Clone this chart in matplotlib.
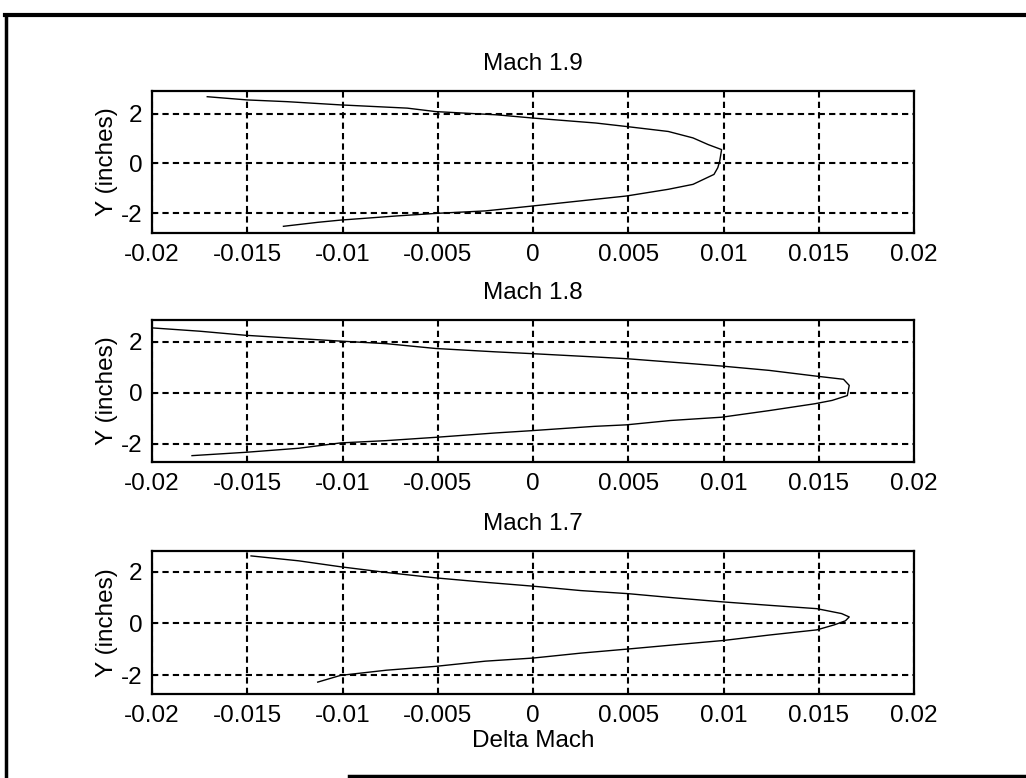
import matplotlib.pyplot as plt
from matplotlib.lines import Line2D

plt.rcParams['font.family'] = ['Liberation Sans', 'DejaVu Sans']

titles = ["Mach 1.9", "Mach 1.8", "Mach 1.7"]

m19_x = [-0.0171, -0.015, -0.0129, -0.0101, -0.0066, -0.0051, -0.0019, 0.0, 0.0033,
         0.0049, 0.0071, 0.0084, 0.0092, 0.0099, 0.0098, 0.0097, 0.0095, 0.0084,
         0.0071, 0.0049, 0.0033, 0.0, -0.0025, -0.0051, -0.0071, -0.0101, -0.0113, -0.0131]
m19_y = [2.69, 2.56, 2.49, 2.36, 2.23, 2.09, 1.96, 1.83, 1.63,
         1.49, 1.29, 1.03, 0.76, 0.56, 0.09, -0.17, -0.44, -0.84,
         -1.04, -1.31, -1.44, -1.71, -1.91, -2.01, -2.11, -2.28, -2.37, -2.53]

m18_x = [-0.02, -0.0175, -0.0151, -0.0123, -0.0101, -0.0077, -0.0051, -0.002, -0.0001,
         0.0032, 0.0049, 0.0084, 0.0099, 0.0124, 0.0148, 0.0163, 0.0166, 0.0165,
         0.0157, 0.0148, 0.0124, 0.0099, 0.0072, 0.0049, 0.0032, -0.0001, -0.002,
         -0.0051, -0.0077, -0.0101, -0.0123, -0.0151, -0.0179]
m18_y = [2.55, 2.42, 2.26, 2.13, 2.03, 1.93, 1.74, 1.61, 1.54,
         1.41, 1.34, 1.14, 1.05, 0.88, 0.66, 0.53, 0.29, -0.11,
         -0.30, -0.43, -0.70, -0.96, -1.09, -1.26, -1.32, -1.49, -1.58,
         -1.75, -1.88, -1.97, -2.18, -2.34, -2.47]

m17_x = [-0.0148, -0.0123, -0.0101, -0.0077, -0.0051, -0.0025, 0.0, 0.0025, 0.005,
         0.0074, 0.01, 0.0124, 0.0149, 0.0162, 0.0166, 0.0164, 0.0158, 0.0149,
         0.0124, 0.01, 0.0074, 0.005, 0.0025, 0.0, -0.0025, -0.0051, -0.0077,
         -0.0101, -0.0113]
m17_y = [2.61, 2.42, 2.19, 1.97, 1.76, 1.59, 1.44, 1.27, 1.15,
         0.99, 0.83, 0.70, 0.57, 0.38, 0.25, 0.10, -0.06, -0.25,
         -0.45, -0.66, -0.83, -0.99, -1.15, -1.34, -1.46, -1.66, -1.81,
         -2.01, -2.27]

xticks = [-0.02, -0.015, -0.01, -0.005, 0, 0.005, 0.01, 0.015, 0.02]
xticklabels = ["-0.02", "-0.015", "-0.01", "-0.005", "0", "0.005", "0.01", "0.015", "0.02"]
yticks = [-2, 0, 2]
yticklabels = ["-2", "0", "2"]
ylims = [(-2.8, 2.92), (-2.72, 2.86), (-2.73, 2.8)]

fig = plt.figure(figsize=(10.26, 7.78), dpi=100)

W, H = 1026.0, 778.0
# (top, bottom) of each panel in pixels
boxes = [(91, 233), (320, 462), (551, 694)]
data = [(m19_x, m19_y), (m18_x, m18_y), (m17_x, m17_y)]
fs = 17.5

for i in range(3):
    top, bot = boxes[i]
    ax = fig.add_axes([152 / W, 1 - bot / H, (914 - 152) / W, (bot - top) / H])
    xs, ys = data[i]
    ax.plot(xs, ys, color='black', linewidth=1.0)
    ax.set_xlim(-0.02, 0.02)
    ax.set_ylim(*ylims[i])
    ax.set_xticks(xticks)
    ax.set_xticklabels(xticklabels)
    ax.set_yticks(yticks)
    ax.set_yticklabels(yticklabels)
    ax.grid(True, color='black', linestyle=(0, (3, 2)), linewidth=1.5)
    ax.tick_params(direction='in', length=3, labelsize=fs)
    ax.tick_params(axis='x', pad=8)
    ax.tick_params(axis='y', pad=7)
    for s in ax.spines.values():
        s.set_linewidth(1.6)
    ax.set_title(titles[i], fontsize=fs, pad=15)
    ax.set_ylabel("Y (inches)", fontsize=fs, labelpad=2)
    if i == 2:
        ax.set_xlabel("Delta Mach", fontsize=fs, labelpad=2)

# scanned frame around the figure
fig.add_artist(Line2D([0.005, 1.0], [0.981, 0.981], color='black', linewidth=3))
fig.add_artist(Line2D([0.006, 0.006], [0.0, 0.981], color='black', linewidth=2.5))
fig.add_artist(Line2D([0.34, 1.0], [0.003, 0.003], color='black', linewidth=2.5))

fig.savefig("out.png", dpi=100)
